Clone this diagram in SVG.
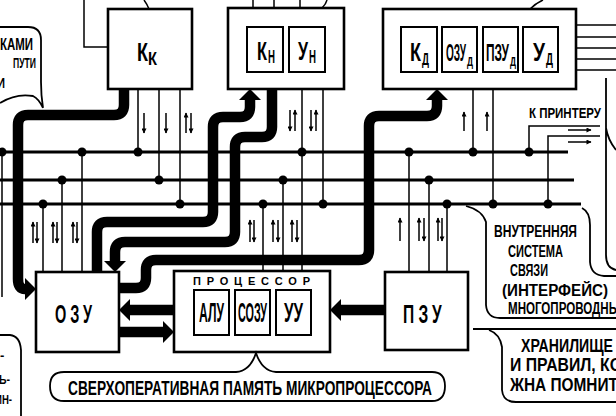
<svg xmlns="http://www.w3.org/2000/svg" width="616" height="416" viewBox="0 0 616 416">
<defs>
<style>
.box{fill:#fff;stroke:#000;stroke-width:2.6}
.ibox{fill:none;stroke:#000;stroke-width:2}
.bus{stroke:#000;stroke-width:2.8;fill:none}
.ln{stroke:#000;stroke-width:1.5;fill:none}
.thick{stroke:#000;stroke-width:10.5;fill:none;marker-end:url(#th)}
.ar path{stroke:#000;stroke-width:1.5;fill:none;marker-end:url(#ta)}
.dot{fill:#000}
.co{stroke:#000;stroke-width:1.8;fill:none}
text{font-family:"Liberation Sans",Arial,sans-serif;font-weight:bold;fill:#000}
</style>
<marker id="th" markerUnits="userSpaceOnUse" viewBox="0 0 11 22" markerWidth="11" markerHeight="22" refX="0" refY="11" orient="auto"><path d="M0,0 L11,11 L0,22 Z" fill="#000"/></marker>
<marker id="ta" markerUnits="userSpaceOnUse" viewBox="0 0 10 10" markerWidth="7" markerHeight="5" refX="9" refY="5" orient="auto"><path d="M0,0 L10,5 L0,10 Z" fill="#000"/></marker>
</defs>
<rect width="616" height="416" fill="#fff"/>

<g id="connectors">
  <path class="bus" d="M0 152 H568 M0 180 H574 M0 204 H581"/>
  <path class="ln" d="M2 152 V297 M82 152 V272 M62 180 V272 M43 204 V272
    M138 89 V152 M159 89 V180 M180 89 V204
    M302 89 V271 M323 89 V204 M263 204 V271 M283 180 V271
    M409 152 V272 M429 180 V272 M447 204 V272
    M473 89 V152 M493 89 V204
    M529 152 V126 H600 M548 204 V136 H600
    M108 47 H84 V0 M149 9 Q147 4 144 0
    M253 0 V8 M274 0 V8 M300 0 V8 M322 8 Q326 4 327 0 M530 9 Q536 3 543 0
    M576 25 H616 M576 37 H616 M576 48 H616 M576 59 H616 M576 70 H616
    M256 339 V352"/>
  <g class="dot">
    <circle cx="2" cy="152" r="4.5"/><circle cx="82" cy="152" r="4.5"/><circle cx="138" cy="152" r="4.5"/><circle cx="302" cy="152" r="4.5"/><circle cx="409" cy="152" r="4.5"/><circle cx="473" cy="152" r="4.5"/><circle cx="529" cy="152" r="4.5"/>
    <circle cx="62" cy="180" r="4.5"/><circle cx="159" cy="180" r="4.5"/><circle cx="283" cy="180" r="4.5"/><circle cx="429" cy="180" r="4.5"/>
    <circle cx="43" cy="204" r="4.5"/><circle cx="180" cy="204" r="4.5"/><circle cx="263" cy="204" r="4.5"/><circle cx="323" cy="204" r="4.5"/><circle cx="447" cy="204" r="4.5"/><circle cx="493" cy="204" r="4.5"/><circle cx="548" cy="204" r="4.5"/>
  </g>
  <g class="ar">
    <path d="M144 113 V133"/><path d="M166 113 V133"/><path d="M186 133 V113"/><path d="M191 113 V133"/>
    <path d="M290 110 V131"/><path d="M295 131 V110"/><path d="M311 110 V131"/><path d="M316 131 V110"/>
    <path d="M464 131 V112"/><path d="M487 131 V112"/>
    <path d="M33 243 V222"/><path d="M37 222 V243"/><path d="M53 243 V222"/><path d="M57 222 V243"/><path d="M73 243 V222"/><path d="M77 222 V243"/>
    <path d="M250 242 V220"/><path d="M254 220 V242"/><path d="M273 242 V220"/><path d="M278 220 V242"/><path d="M292 242 V220"/><path d="M297 220 V242"/>
    <path d="M400 241 V218"/><path d="M419 241 V218"/><path d="M424 218 V241"/><path d="M438 241 V218"/><path d="M442 218 V241"/>
    <path d="M568 130 H591"/><path d="M568 142 H591"/>
  </g>
  <path class="thick" d="M124 89 V105 Q124 115 114 115 H28 Q18 115 18 125 V279 Q18 289 25 289"/>
  <path class="thick" d="M97 272 V232 Q97 222 107 222 H203 Q213 222 213 212 V127 Q213 117 223 117 H240 Q250 117 250 107 V100"/>
  <path class="thick" d="M272 89 V127 Q272 137 262 137 H245 Q235 137 235 147 V232 Q235 242 225 242 H125 Q115 242 115 252 V261"/>
  <path class="thick" d="M119 288 H136 Q146 288 146 278 V270 Q146 260 156 260 H359 Q369 260 369 250 V126 Q369 116 379 116 H427 Q437 116 437 106 V100"/>
  <path class="thick" d="M174 310 H130"/>
  <path class="thick" d="M119 332 H163"/>
  <path class="thick" d="M385 310 H341"/>
</g>

<g id="node-kk">
  <rect class="box" x="108" y="9" width="84" height="80"/>
  <text x="137" y="61" font-size="26" textLength="11" lengthAdjust="spacingAndGlyphs">К</text>
  <text x="148" y="65" font-size="18" textLength="9" lengthAdjust="spacingAndGlyphs">К</text>
</g>

<g id="node-kn">
  <rect class="box" x="228" y="8" width="116" height="81"/>
  <rect class="ibox" x="247" y="27" width="36" height="45"/>
  <rect class="ibox" x="289" y="27" width="36" height="45"/>
  <text x="257" y="60" font-size="25" textLength="10" lengthAdjust="spacingAndGlyphs">К</text>
  <text x="268" y="63" font-size="18" textLength="7" lengthAdjust="spacingAndGlyphs">Н</text>
  <text x="298" y="60" font-size="25" textLength="10" lengthAdjust="spacingAndGlyphs">У</text>
  <text x="309" y="63" font-size="18" textLength="7" lengthAdjust="spacingAndGlyphs">Н</text>
</g>

<g id="node-kd">
  <rect class="box" x="383" y="9" width="193" height="80"/>
  <rect class="ibox" x="401" y="27" width="36" height="45"/>
  <rect class="ibox" x="442" y="27" width="35" height="45"/>
  <rect class="ibox" x="483" y="27" width="35" height="45"/>
  <rect class="ibox" x="523" y="27" width="35" height="45"/>
  <text x="410" y="61" font-size="25" textLength="11" lengthAdjust="spacingAndGlyphs">К</text>
  <text x="422" y="65" font-size="16" textLength="7" lengthAdjust="spacingAndGlyphs">Д</text>
  <text x="446" y="61" font-size="24" textLength="20" lengthAdjust="spacingAndGlyphs">ОЗУ</text>
  <text x="467" y="66" font-size="13" textLength="6" lengthAdjust="spacingAndGlyphs">Д</text>
  <text x="486" y="61" font-size="24" textLength="23" lengthAdjust="spacingAndGlyphs">ПЗУ</text>
  <text x="510" y="66" font-size="13" textLength="6" lengthAdjust="spacingAndGlyphs">Д</text>
  <text x="533" y="61" font-size="25" textLength="12" lengthAdjust="spacingAndGlyphs">У</text>
  <text x="546" y="65" font-size="16" textLength="7" lengthAdjust="spacingAndGlyphs">Д</text>
</g>

<g id="node-ozu">
  <rect class="box" x="36" y="272" width="83" height="80"/>
  <text x="55" y="323" font-size="25" letter-spacing="7" textLength="41" lengthAdjust="spacingAndGlyphs">ОЗУ</text>
</g>

<g id="node-proc">
  <rect class="box" x="174" y="271" width="156" height="81"/>
  <text x="193" y="285" font-size="11" textLength="117" lengthAdjust="spacing">ПРОЦЕССОР</text>
  <rect class="ibox" x="194" y="290" width="35" height="45"/>
  <rect class="ibox" x="235" y="290" width="35" height="45"/>
  <rect class="ibox" x="276" y="290" width="35" height="45"/>
  <text x="199" y="322" font-size="28" textLength="25" lengthAdjust="spacingAndGlyphs">АЛУ</text>
  <text x="238" y="322" font-size="28" textLength="29" lengthAdjust="spacingAndGlyphs">СОЗУ</text>
  <text x="284" y="322" font-size="28" textLength="19" lengthAdjust="spacingAndGlyphs">УУ</text>
</g>

<g id="node-pzu">
  <rect class="box" x="385" y="272" width="83" height="78"/>
  <text x="403" y="323" font-size="25" letter-spacing="7" textLength="43" lengthAdjust="spacingAndGlyphs">ПЗУ</text>
</g>

<g id="label-printer">
  <text x="529" y="118" font-size="15" textLength="72" lengthAdjust="spacingAndGlyphs">К ПРИНТЕРУ</text>
</g>

<g id="callout-sozu">
  <path class="co" d="M64 372 H236 Q250 371 256 353 Q262 371 276 372 H432 Q445 372 445 386 Q445 401 432 401 H64 Q50 401 50 386 Q50 372 64 372 Z"/>
  <text x="68" y="395" font-size="20" textLength="364" lengthAdjust="spacingAndGlyphs">СВЕРХОПЕРАТИВНАЯ  ПАМЯТЬ  МИКРОПРОЦЕССОРА</text>
</g>

<g id="callout-interface">
  <path class="co" d="M466 206 Q482 210 486 222 V305 Q487 318 500 318 H616"/>
  <path class="co" d="M582 208 Q590 212 590 225 V262 Q591 275 604 276 H616"/>
  <text x="494" y="237" font-size="16" textLength="83" lengthAdjust="spacingAndGlyphs">ВНУТРЕННЯЯ</text>
  <text x="508" y="257" font-size="16" textLength="55" lengthAdjust="spacingAndGlyphs">СИСТЕМА</text>
  <text x="510" y="276" font-size="16" textLength="38" lengthAdjust="spacingAndGlyphs">СВЯЗИ</text>
  <text x="502" y="296" font-size="16" textLength="106" lengthAdjust="spacingAndGlyphs">(ИНТЕРФЕЙС)</text>
  <text x="508" y="314" font-size="16" textLength="112" lengthAdjust="spacingAndGlyphs">МНОГОПРОВОДНЫ</text>
</g>

<g id="callout-storage">
  <path class="co" d="M473 329 H616 M489 330 Q500 334 502 347 V390 Q503 402 516 402 H616"/>
  <text x="521" y="352" font-size="18" textLength="106" lengthAdjust="spacingAndGlyphs">ХРАНИЛИЩЕ  Д</text>
  <text x="510" y="371" font-size="18" textLength="112" lengthAdjust="spacingAndGlyphs">И ПРАВИЛ, КО</text>
  <text x="510" y="391" font-size="18" textLength="108" lengthAdjust="spacingAndGlyphs">ЖНА  ПОМНИТ</text>
</g>

<g id="callout-right">
  <path class="co" d="M606 78 V255 Q606 268 616 270 M606 128 Q608 140 616 150"/>
</g>

<g id="callout-top-left">
  <path class="co" d="M0 27 H28 Q41 27 41 40 V82 Q41 95 43 108 M0 103 Q16 93 33 96 Q39 99 43 108"/>
  <text x="0" y="50" font-size="16" textLength="33" lengthAdjust="spacingAndGlyphs">КАМИ</text>
  <text x="13" y="68" font-size="15" textLength="23" lengthAdjust="spacingAndGlyphs">ПУТИ</text>
  <text x="-3" y="88" font-size="15" textLength="8" lengthAdjust="spacingAndGlyphs">И</text>
</g>

<g id="callout-bottom-left">
  <path class="co" d="M0 335 H10 Q20 336 21 350 V416"/>
  <text x="0" y="360" font-size="13">-</text>
  <text x="-1" y="384" font-size="13" textLength="11" lengthAdjust="spacingAndGlyphs">Ь-</text>
  <text x="-5" y="404" font-size="13" textLength="17" lengthAdjust="spacingAndGlyphs">ИН-</text>
</g>
</svg>
